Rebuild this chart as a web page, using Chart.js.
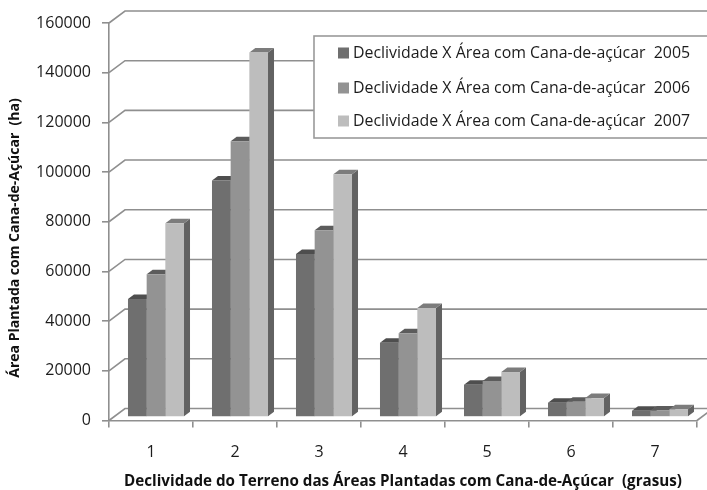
<!DOCTYPE html>
<html>
<head>
<meta charset="utf-8">
<title>Declividade X Área com Cana-de-açúcar</title>
<script src="https://cdn.jsdelivr.net/npm/chart.js@4"></script>
<style>
  html, body { margin: 0; background: #fff; }
  #wrap { width: 707px; height: 490px; }
  canvas { filter: blur(0.4px); }
</style>
</head>
<body>
<div id="wrap"><canvas id="chart" width="707" height="490"></canvas></div>
<script>
const categories = ['1', '2', '3', '4', '5', '6', '7'];
const area2005 = [47500, 95200, 65600, 29900, 13000, 5750, 2500];
const area2006 = [57500, 111000, 75200, 33700, 14500, 6150, 2600];
const area2007 = [78000, 146700, 97700, 43900, 18100, 7600, 3100];
const seriesLabels = [
  'Declividade X Área com Cana-de-açúcar  2005',
  'Declividade X Área com Cana-de-açúcar  2006',
  'Declividade X Área com Cana-de-açúcar  2007'
];
const frontColors = ['#6f6f6f', '#939393', '#bdbdbd'];
const sideColors = ['#565656', '#626262', '#626262'];
const topColors = ['#4e4e4e', '#5c5c5c', '#7c7c7c'];

const xTitle = 'Declividade do Terreno das Áreas Plantadas com Cana-de-Açúcar  (grasus)';
const yTitle = 'Área Plantada com Cana-de-Açúcar  (ha)';

const gridColor = '#8f8f8f';
// depth of the 3d box and of the bars
const wall = { dx: 16, dy: -12 };
const barShift = { dx: 5, dy: -3.5 };
const barDepth = { dx: 6, dy: -4.5 };

const box3d = {
  id: 'box3d',
  beforeDatasetsDraw(chart) {
    const { ctx, scales: { x, y } } = chart;
    ctx.save();
    ctx.strokeStyle = gridColor;
    ctx.lineWidth = 1.6;
    y.ticks.forEach(t => {
      const py = y.getPixelForValue(t.value);
      ctx.beginPath();
      ctx.moveTo(x.left, py);
      ctx.lineTo(x.left + wall.dx, py + wall.dy);
      ctx.lineTo(chart.width, py + wall.dy);
      ctx.stroke();
    });
    // right corner of the floor
    const py0 = y.getPixelForValue(0);
    ctx.beginPath();
    ctx.moveTo(x.right, py0);
    ctx.lineTo(x.right + wall.dx, py0 + wall.dy);
    ctx.stroke();
    ctx.restore();

    // bars are drawn with a small shift, they stand in the middle of the floor
    ctx.save();
    ctx.translate(barShift.dx, barShift.dy);
    chart.data.datasets.forEach((ds, i) => {
      chart.getDatasetMeta(i).data.forEach(bar => {
        const right = bar.x + bar.width / 2;
        const left = bar.x - bar.width / 2;
        ctx.fillStyle = sideColors[i];
        ctx.beginPath();
        ctx.moveTo(right, bar.y);
        ctx.lineTo(right + barDepth.dx, bar.y + barDepth.dy);
        ctx.lineTo(right + barDepth.dx, bar.base + barDepth.dy);
        ctx.lineTo(right, bar.base);
        ctx.closePath();
        ctx.fill();
        ctx.fillStyle = topColors[i];
        ctx.beginPath();
        ctx.moveTo(left, bar.y);
        ctx.lineTo(left + barDepth.dx, bar.y + barDepth.dy);
        ctx.lineTo(right + barDepth.dx, bar.y + barDepth.dy);
        ctx.lineTo(right, bar.y);
        ctx.closePath();
        ctx.fill();
      });
    });
  },
  afterDatasetsDraw(chart) {
    chart.ctx.restore();
  },
  afterDraw(chart) {
    const { ctx } = chart;
    // legend box, its right side is cut by the picture edge
    ctx.save();
    ctx.fillStyle = '#fff';
    ctx.strokeStyle = '#9a9a9a';
    ctx.lineWidth = 1.6;
    ctx.fillRect(314, 36, 393, 102);
    ctx.strokeRect(314, 36, 400, 102);
    ctx.font = '15.9px "Open Sans"';
    ctx.textBaseline = 'middle';
    chart.data.datasets.forEach((ds, i) => {
      const ly = [53, 88, 121][i];
      ctx.fillStyle = frontColors[i];
      ctx.fillRect(338, ly - 5.5, 11, 11);
      ctx.fillStyle = '#1c1c1c';
      ctx.fillText(ds.label, 353, ly);
    });
    // y axis title
    ctx.translate(15.5, 238);
    ctx.rotate(-Math.PI / 2);
    ctx.textAlign = 'center';
    ctx.font = 'bold 14px "Open Sans"';
    ctx.fillStyle = '#111';
    ctx.fillText(yTitle, 0, 0);
    ctx.restore();
  }
};

new Chart(document.getElementById('chart'), {
  type: 'bar',
  data: {
    labels: categories,
    datasets: [area2005, area2006, area2007].map((values, i) => ({
      label: seriesLabels[i],
      data: values,
      backgroundColor: frontColors[i],
      categoryPercentage: 0.667,
      barPercentage: 1,
      clip: false
    }))
  },
  plugins: [box3d],
  options: {
    responsive: false,
    animation: false,
    layout: { padding: { top: 23, right: 10 } },
    plugins: { legend: { display: false }, tooltip: { enabled: false } },
    scales: {
      x: {
        afterFit(s) { s.height = 69.5; },
        grid: { drawOnChartArea: false, color: gridColor, lineWidth: 1.6, tickLength: 7, offset: true },
        border: { color: gridColor, width: 1.6 },
        ticks: { color: '#1c1c1c', font: { family: 'Open Sans', size: 16 }, padding: 15, maxRotation: 0 },
        title: { display: true, text: xTitle, color: '#111', font: { family: 'Open Sans', size: 15.2, weight: 'bold' }, padding: { top: 2, bottom: -1 } }
      },
      y: {
        min: 0,
        max: 160000,
        afterFit(s) { s.width = 109; },
        grid: { drawOnChartArea: false, color: gridColor, lineWidth: 1.6, tickLength: 7 },
        border: { color: gridColor, width: 1.6 },
        ticks: { stepSize: 20000, color: '#1c1c1c', font: { family: 'Open Sans', size: 16 }, padding: 11, callback: v => String(v) }
      }
    }
  }
});
</script>
</body>
</html>
